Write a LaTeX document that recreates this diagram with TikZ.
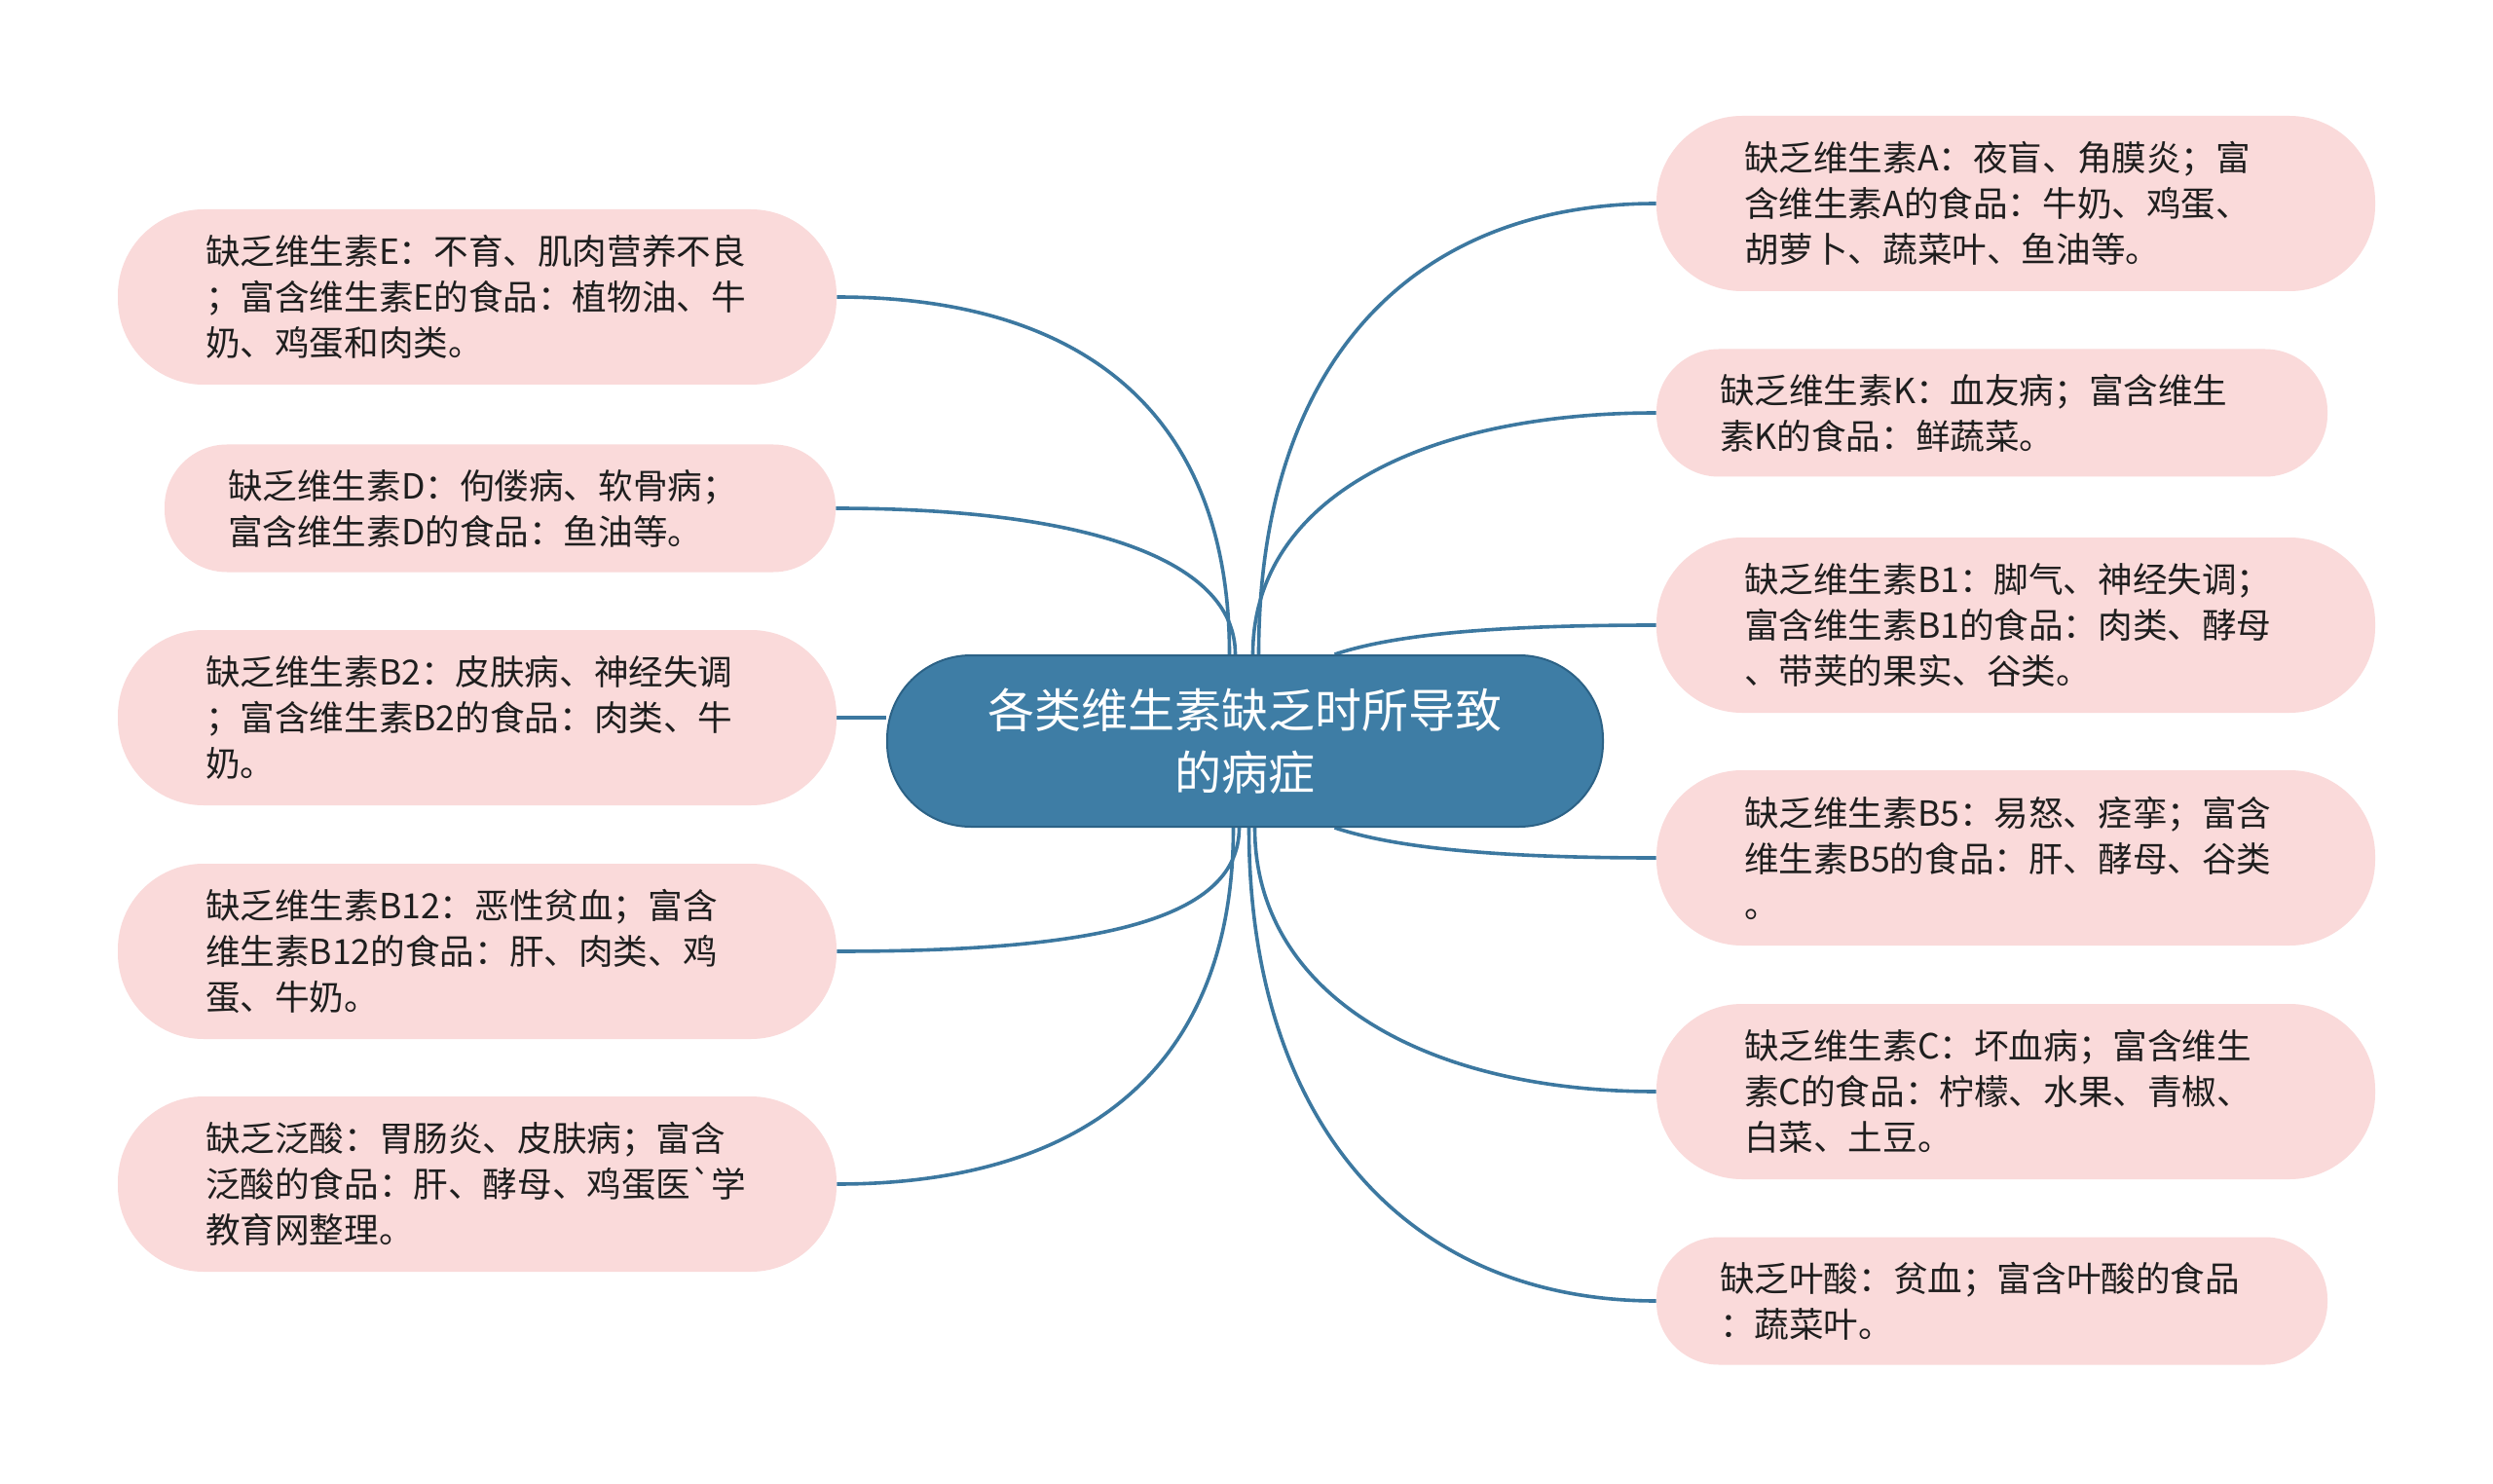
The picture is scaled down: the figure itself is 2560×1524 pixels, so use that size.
\documentclass[tikz,border=0pt]{standalone}
\usepackage{fontspec}
\setmainfont{Noto Sans CJK SC}
\usetikzlibrary{backgrounds,calc}
\definecolor{leafpink}{RGB}{250,218,218}
\definecolor{rootblue}{RGB}{62,125,165}
\definecolor{rootedge}{RGB}{44,98,134}
\definecolor{linkblue}{RGB}{60,120,160}
\definecolor{txtgray}{RGB}{30,30,30}
\begin{document}
\begin{tikzpicture}[x=0.5pt,y=-0.5pt,
  leaf/.style={fill=leafpink, draw=none, rounded corners=44pt,
    minimum height=90pt, text width=279pt, inner xsep=45pt, inner ysep=0pt,
    align=left, text=txtgray, font=\fontsize{17.8}{23.5}\selectfont},
  leafsmall/.style={leaf, rounded corners=32pt, minimum height=65.5pt,
    text width=279.5pt, inner xsep=32.5pt},
  rootbox/.style={fill=rootblue, draw=rootedge, line width=1pt, rounded corners=43pt,
    minimum width=367.5pt, minimum height=88pt, inner sep=0pt, align=center,
    text=white, font=\fontsize{24}{32}\selectfont},
  link/.style={draw=linkblue, line width=1.8pt}]
\useasboundingbox (0,0) rectangle (2560,1524);

\node[rootbox] (root) at (1278.5,761) {各类维生素缺乏时所导致\\的病症};

\node[leaf] (E) at (490,305) {缺乏维生素E：不育、肌肉营养不良\\；富含维生素E的食品：植物油、牛\\奶、鸡蛋和肉类。};
\node[leafsmall] (D) at (513.5,522) {缺乏维生素D：佝偻病、软骨病；\\富含维生素D的食品：鱼油等。};
\node[leaf] (B2) at (490,737) {缺乏维生素B2：皮肤病、神经失调\\；富含维生素B2的食品：肉类、牛\\奶。};
\node[leaf] (B12) at (490,977) {缺乏维生素B12：恶性贫血；富含\\维生素B12的食品：肝、肉类、鸡\\蛋、牛奶。};
\node[leaf] (FS) at (490,1216) {缺乏泛酸：胃肠炎、皮肤病；富含\\泛酸的食品：肝、酵母、鸡蛋医\textasciigrave 学\\教育网整理。};

\node[leaf] (A) at (2070,209) {缺乏维生素A：夜盲、角膜炎；富\\含维生素A的食品：牛奶、鸡蛋、\\胡萝卜、蔬菜叶、鱼油等。};
\node[leafsmall] (K) at (2045.5,424) {缺乏维生素K：血友病；富含维生\\素K的食品：鲜蔬菜。};
\node[leaf] (B1) at (2070,642) {缺乏维生素B1：脚气、神经失调；\\富含维生素B1的食品：肉类、酵母\\、带荚的果实、谷类。};
\node[leaf] (B5) at (2070,881) {缺乏维生素B5：易怒、痉挛；富含\\维生素B5的食品：肝、酵母、谷类\\。};
\node[leaf] (C) at (2070,1121) {缺乏维生素C：坏血病；富含维生\\素C的食品：柠檬、水果、青椒、\\白菜、土豆。};
\node[leafsmall] (YS) at (2045.5,1336) {缺乏叶酸：贫血；富含叶酸的食品\\：蔬菜叶。};

\coordinate (tE) at ($(root.north)+(-16,0)$);
\coordinate (tD) at ($(root.north)+(-10,0)$);
\coordinate (tA) at ($(root.north)+(14,0)$);
\coordinate (tK) at ($(root.north)+(8,0)$);
\coordinate (tB1) at ($(root.north)+(92,0)$);
\coordinate (bB12) at ($(root.south)+(-6,0)$);
\coordinate (bFS) at ($(root.south)+(-12,0)$);
\coordinate (bB5) at ($(root.south)+(92,0)$);
\coordinate (bC) at ($(root.south)+(10,0)$);
\coordinate (bYS) at ($(root.south)+(4,0)$);

\begin{pgfonlayer}{background}
\fill[white] (0,0) rectangle (2560,1524);
\draw[link] (E.east) .. controls +(250,0) and +(0,-250) .. (tE);
\draw[link] (D.east) .. controls +(250,0) and +(0,-100) .. (tD);
\draw[link] (B2.east) -- (B2.east -| root.west);
\draw[link] (B12.east) .. controls +(250,0) and +(0,100) .. (bB12);
\draw[link] (FS.east) .. controls +(250,0) and +(0,250) .. (bFS);
\draw[link] (A.west) .. controls +(-250,0) and +(0,-300) .. (tA);
\draw[link] (K.west) .. controls +(-240,0) and +(0,-160) .. (tK);
\draw[link] (B1.west) .. controls +(-170,0) and +(60,-20) .. (tB1);
\draw[link] (B5.west) .. controls +(-170,0) and +(60,20) .. (bB5);
\draw[link] (C.west) .. controls +(-240,0) and +(0,170) .. (bC);
\draw[link] (YS.west) .. controls +(-250,0) and +(0,310) .. (bYS);
\end{pgfonlayer}
\end{tikzpicture}
\end{document}
